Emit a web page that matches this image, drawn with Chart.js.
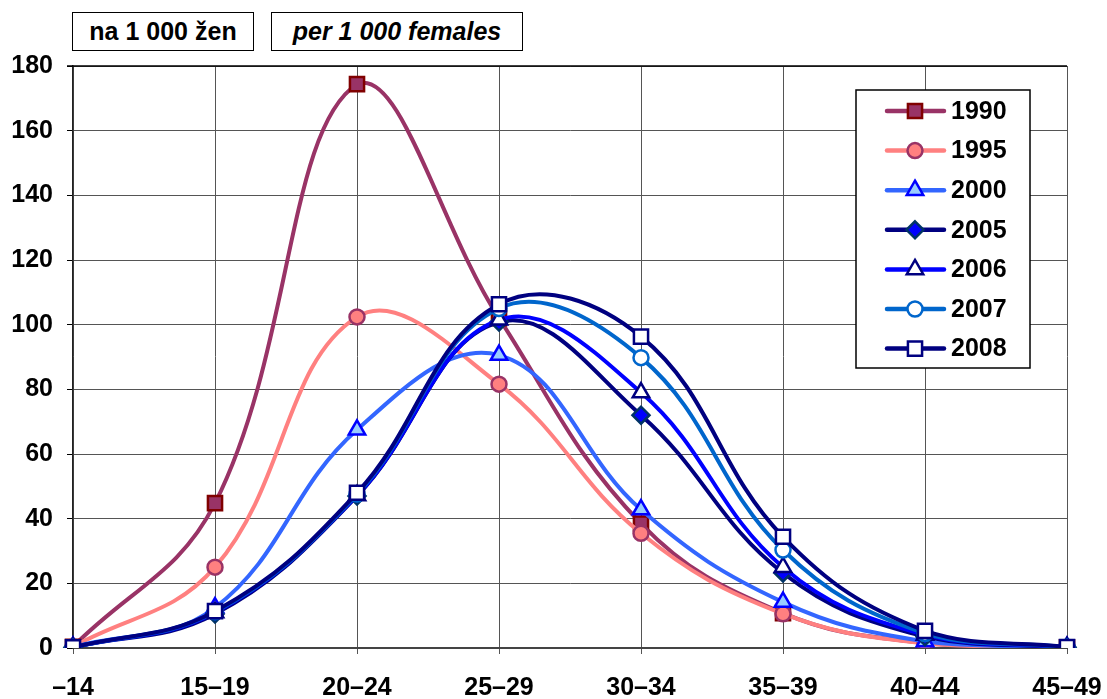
<!DOCTYPE html>
<html>
<head>
<meta charset="utf-8">
<script src="https://cdn.jsdelivr.net/npm/chart.js"></script>
<style>
  html, body { margin: 0; padding: 0; background: #fff; }
  #wrap { position: relative; width: 1107px; height: 699px; }
  .tag {
    position: absolute; top: 12px; height: 39px; box-sizing: border-box;
    border: 1px solid #000; background: #fff;
    font: bold 25px "Liberation Sans", Arial, sans-serif;
    display: flex; align-items: center; justify-content: center;
  }
</style>
</head>
<body>
<div id="wrap">
  <canvas id="chart" width="1107" height="699"></canvas>
  <div class="tag" style="left:72px; width:182px;">na 1 000 žen</div>
  <div class="tag" style="left:271px; width:252px; font-style:italic;">per 1 000 females</div>
</div>
<script>
const ageGroups = ['–14', '15–19', '20–24', '25–29', '30–34', '35–39', '40–44', '45–49'];
const years = ['1990', '1995', '2000', '2005', '2006', '2007', '2008'];

const rates1990 = [0.4, 44.8, 174.4, 102.0, 38.5, 10.8, 1.5, 0.2];
const rates1995 = [0.4, 25.0, 102.4, 81.6, 35.5, 10.6, 1.4, 0.2];
const rates2000 = [0.3, 12.5, 67.5, 90.6, 42.8, 14.2, 2.0, 0.2];
const rates2005 = [0.2, 10.5, 47.0, 100.8, 72.0, 23.2, 3.5, 0.2];
const rates2006 = [0.2, 11.0, 47.2, 101.5, 79.0, 25.0, 4.0, 0.2];
const rates2007 = [0.2, 11.2, 47.6, 105.0, 89.8, 30.3, 4.5, 0.3];
const rates2008 = [0.2, 11.4, 48.0, 106.3, 96.3, 34.4, 5.3, 0.3];

const yTicks = [0, 20, 40, 60, 80, 100, 120, 140, 160, 180];

const FONT = '"Liberation Sans", Arial, sans-serif';

// line colour, marker style, marker fill, marker border, radius
const styles = [
  { line: '#993366', point: 'rect',     fill: '#993366', border: '#800000', r: 10 },
  { line: '#FF8080', point: 'circle',   fill: '#FF8080', border: '#993366', r: 7.5 },
  { line: '#3366FF', point: 'triangle', fill: '#99CCFF', border: '#0000FF', r: 9.5 },
  { line: '#000080', point: 'rectRot',  fill: '#0000FF', border: '#003366', r: 8.5 },
  { line: '#0000FF', point: 'triangle', fill: '#FFFFFF', border: '#000080', r: 9.5 },
  { line: '#0066CC', point: 'circle',   fill: '#FFFFFF', border: '#0066CC', r: 7.5 },
  { line: '#000080', point: 'rect',     fill: '#FFFFFF', border: '#000080', r: 10 }
];

const series = [rates1990, rates1995, rates2000, rates2005, rates2006, rates2007, rates2008];

const datasets = series.map((vals, i) => ({
  label: years[i],
  data: vals,
  borderColor: styles[i].line,
  borderWidth: 4,
  tension: 0.4,
  pointStyle: styles[i].point,
  pointRadius: styles[i].r,
  pointBackgroundColor: styles[i].fill,
  pointBorderColor: styles[i].border,
  pointBorderWidth: 2.5,
  order: series.length - i   // later years drawn on top
}));

function drawMarker(ctx, st, x, y) {
  ctx.save();
  ctx.fillStyle = st.fill;
  ctx.strokeStyle = st.border;
  ctx.lineWidth = 2.5;
  ctx.beginPath();
  const r = st.r;
  if (st.point === 'rect') {
    const s = Math.SQRT1_2 * r;
    ctx.rect(x - s, y - s, 2 * s, 2 * s);
  } else if (st.point === 'circle') {
    ctx.arc(x, y, r, 0, Math.PI * 2);
  } else if (st.point === 'triangle') {
    for (let k = 0; k < 3; k++) {
      const a = k * 2 * Math.PI / 3;
      const px = x + Math.sin(a) * r, py = y - Math.cos(a) * r;
      if (k === 0) ctx.moveTo(px, py); else ctx.lineTo(px, py);
    }
  } else if (st.point === 'rectRot') {
    ctx.moveTo(x, y - r); ctx.lineTo(x + r, y); ctx.lineTo(x, y + r); ctx.lineTo(x - r, y);
  }
  ctx.closePath();
  ctx.fill();
  ctx.stroke();
  ctx.restore();
}

const boxLegend = {
  id: 'boxLegend',
  beforeDatasetsDraw(chart) {
    // solid top edge of the plot area
    const { ctx, chartArea } = chart;
    ctx.save();
    ctx.strokeStyle = '#000';
    ctx.lineWidth = 1.5;
    ctx.beginPath();
    ctx.moveTo(chartArea.left - 6, chartArea.top);
    ctx.lineTo(chartArea.right, chartArea.top);
    ctx.stroke();
    ctx.restore();
  },
  afterDraw(chart) {
    const ctx = chart.ctx;
    const left = 856, top = 90, w = 174, h = 278;
    ctx.save();
    ctx.fillStyle = '#fff';
    ctx.fillRect(left, top, w, h);
    ctx.strokeStyle = '#000';
    ctx.lineWidth = 1.5;
    ctx.strokeRect(left, top, w, h);
    ctx.font = 'bold 25px ' + FONT;
    ctx.textBaseline = 'middle';
    years.forEach((yr, i) => {
      const y = 111 + i * 39.6;
      ctx.strokeStyle = styles[i].line;
      ctx.lineWidth = 4.5;
      ctx.lineCap = 'round';
      ctx.beginPath();
      ctx.moveTo(887, y);
      ctx.lineTo(944, y);
      ctx.stroke();
      drawMarker(ctx, styles[i], 915, y);
      ctx.fillStyle = '#000';
      ctx.fillText(yr, 951, y + 1);
    });
    ctx.restore();
  }
};

new Chart(document.getElementById('chart'), {
  type: 'line',
  data: { labels: ageGroups, datasets: datasets },
  plugins: [boxLegend],
  options: {
    responsive: false,
    animation: false,
    layout: { padding: { top: 66, right: 40, left: 0, bottom: 0 } },
    plugins: { legend: { display: false }, tooltip: { enabled: false } },
    scales: {
      x: {
        offset: false,
        grid: { color: '#555', lineWidth: 1, borderDash: [8, 6], drawTicks: true, tickLength: 6, tickColor: '#555', tickBorderDash: [] },
        border: { display: true, color: '#444', width: 2 },
        ticks: { color: '#000', font: { family: FONT, size: 25, weight: 'bold' }, padding: 19, maxRotation: 0, autoSkip: false },
        afterFit(scale) { scale.height = 51; scale.paddingLeft = 0; scale.paddingRight = 0; }
      },
      y: {
        min: 0, max: 180,
        afterBuildTicks(scale) { scale.ticks = yTicks.map(v => ({ value: v })); },
        grid: { color: '#555', lineWidth: 1, borderDash: [8, 6], drawTicks: true, tickLength: 6, tickColor: '#000', tickBorderDash: [] },
        border: { display: true, color: '#222', width: 1.5 },
        ticks: { color: '#000', font: { family: FONT, size: 25, weight: 'bold' }, padding: 14 },
        afterFit(scale) { scale.width = 73; scale.paddingTop = 0; scale.paddingBottom = 0; }
      }
    }
  }
});
</script>
</body>
</html>
